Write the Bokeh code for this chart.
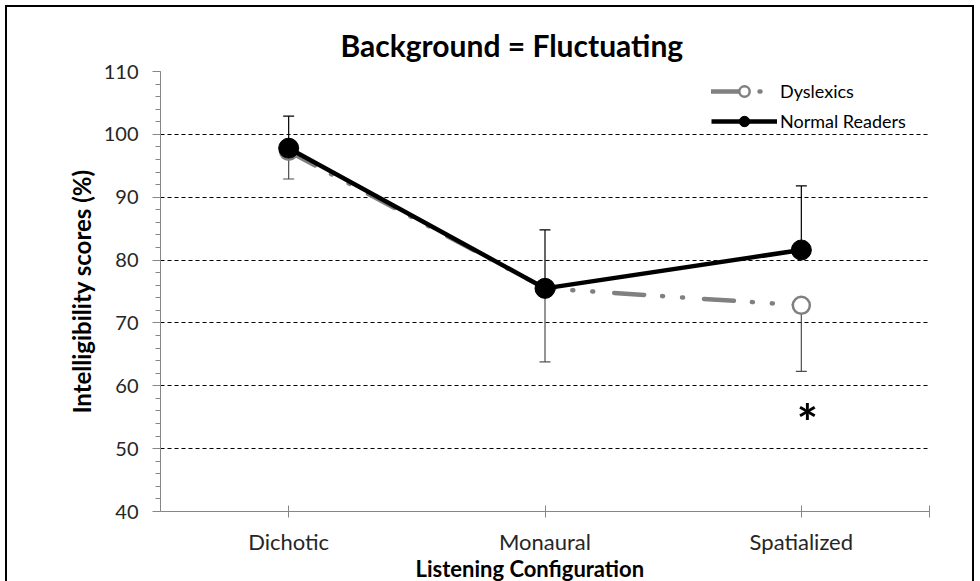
from bokeh.plotting import figure
from bokeh.models import FixedTicker, Whisker, TeeHead, ColumnDataSource, Legend, LegendItem, Label, Title
from bokeh.embed import file_html
from bokeh.resources import INLINE

categories = ["Dichotic", "Monaural", "Spatialized"]
dyslexics = [97.3, 75.5, 72.8]
dyslexics_err = [4.4, 11.7, 10.5]
normal = [97.8, 75.5, 81.6]
normal_err = [5.1, 9.3, 10.2]
y_ticks = [40, 50, 60, 70, 80, 90, 100, 110]
y_minor = list(range(40, 111, 2))
asterisk_y = 54.2

FONT = "Lato"
x = list(range(len(categories)))

p = figure(width=965, height=600, x_range=(-0.5, len(categories) - 0.5), y_range=(40, 110),
           output_backend="svg", toolbar_location=None,
           min_border_left=153, min_border_right=43, min_border_top=64, min_border_bottom=96)
p.styles = {"outline": "2px solid black", "margin": "7px 0 0 7px"}
p.outline_line_color = None
p.background_fill_color = "white"

p.title = Title(text="Background = Fluctuating", align="left", offset=180,
                text_font=FONT, text_font_style="bold", text_font_size="30px",
                text_color="black", standoff=18)

# axes
p.xaxis.ticker = FixedTicker(ticks=x + [len(categories) - 0.5])
overrides = {i: c for i, c in enumerate(categories)}
overrides[len(categories) - 0.5] = ""
p.xaxis.major_label_overrides = overrides
p.xaxis.axis_line_color = "#868686"
p.xaxis.major_tick_line_color = "#868686"
p.xaxis.major_tick_in = 6
p.xaxis.major_tick_out = 6
p.xaxis.minor_tick_line_color = None
p.xaxis.major_label_standoff = 10
p.xaxis.major_label_text_font = FONT
p.xaxis.major_label_text_font_size = "22px"
p.xaxis.major_label_text_color = "#262626"

p.yaxis.ticker = FixedTicker(ticks=y_ticks, minor_ticks=y_minor)
p.yaxis.axis_line_color = "#868686"
p.yaxis.major_tick_line_color = "#868686"
p.yaxis.minor_tick_line_color = "#868686"
p.yaxis.major_tick_in = 0
p.yaxis.major_tick_out = 8
p.yaxis.minor_tick_in = 0
p.yaxis.minor_tick_out = 5
p.yaxis.major_label_standoff = 14
p.yaxis.major_label_text_font = FONT
p.yaxis.major_label_text_font_size = "20px"
p.yaxis.major_label_text_color = "#262626"
p.yaxis.axis_label = "Intelligibility scores (%)"
p.yaxis.axis_label_text_font = FONT
p.yaxis.axis_label_text_font_style = "bold"
p.yaxis.axis_label_text_font_size = "24px"
p.yaxis.axis_label_text_color = "black"
p.yaxis.axis_label_standoff = 5

xlab = Title(text="Listening Configuration", align="left", offset=255,
             text_font=FONT, text_font_style="bold", text_font_size="22px",
             text_color="black", standoff=0)
try:
    xlab.standoff = -10
except ValueError:
    xlab.standoff = 0
p.add_layout(xlab, "below")

p.xgrid.visible = False
p.ygrid.grid_line_color = "black"
p.ygrid.grid_line_dash = "4 3"
p.ygrid.grid_line_width = 1

# error bars
src_n = ColumnDataSource(dict(x=x, lower=normal, upper=[v + e for v, e in zip(normal, normal_err)]))
src_d = ColumnDataSource(dict(x=x, lower=[v - e for v, e in zip(dyslexics, dyslexics_err)], upper=dyslexics))
p.add_layout(Whisker(source=src_d, base="x", lower="lower", upper="upper", dimension="height",
                     line_color="#4d4d4d", line_width=1.2, upper_head=None,
                     lower_head=TeeHead(size=11, line_color="#4d4d4d", line_width=1.2)))
p.add_layout(Whisker(source=src_n, base="x", lower="lower", upper="upper", dimension="height",
                     line_color="black", line_width=1.2, lower_head=None,
                     upper_head=TeeHead(size=11, line_color="black", line_width=1.2)))

# series
r_d_line = p.line(x, dyslexics, line_color="#808080", line_width=4.5,
                  line_dash="30 18 1 19 1 21", line_cap="round")
r_d_pts = p.scatter(x, dyslexics, size=17, fill_color="white", line_color="#808080", line_width=2.5)
r_n_line = p.line(x, normal, line_color="black", line_width=4.5)
r_n_pts = p.scatter(x, normal, size=20, fill_color="black", line_color="black")

legend = Legend(items=[LegendItem(label="Dyslexics", renderers=[r_d_line, r_d_pts]),
                       LegendItem(label="Normal Readers", renderers=[r_n_line, r_n_pts])],
                location=(551, 377), glyph_width=66, glyph_height=26, spacing=4, padding=4,
                margin=0, label_standoff=3, label_text_font=FONT, label_text_font_size="18px",
                label_text_color="black", background_fill_alpha=0, border_line_color=None)
p.add_layout(legend)

p.add_layout(Label(x=x[2], y=asterisk_y, x_offset=6, text="*", text_align="center",
                   text_baseline="middle", text_font=FONT, text_font_style="bold",
                   text_font_size="50px", text_color="black"))

html = file_html(p, INLINE)
html = html.replace("<head>", "<head><style>html,body{overflow:hidden}</style>", 1)
open("out.html", "w").write(html)
